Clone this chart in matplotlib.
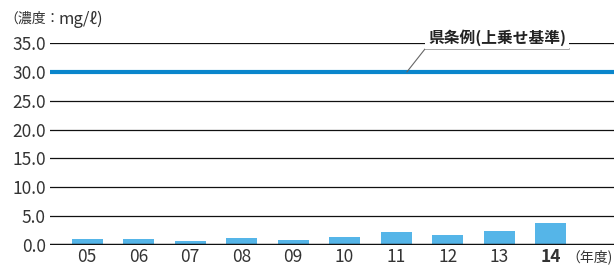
import matplotlib.pyplot as plt

plt.rcParams['font.family'] = ['Noto Sans CJK JP', 'DejaVu Sans']

# fiscal years and concentrations (mg/l)
years = ['05', '06', '07', '08', '09', '10', '11', '12', '13', '14']
values = [1.06, 1.06, 0.76, 1.24, 0.94, 1.47, 2.18, 1.65, 2.35, 3.76]
limit = 30.0
yticks = [0, 5, 10, 15, 20, 25, 30, 35]

bar_color = '#55b5e8'
line_color = '#0a86cc'
text_color = '#333333'

fig = plt.figure(figsize=(6.14, 2.65), dpi=100)
ax = fig.add_axes([50 / 614, 20 / 265, 1 - 50 / 614, 202 / 265])

x = list(range(len(years)))
ax.bar(x, values, width=0.6, color=bar_color, zorder=2)

for v in yticks:
    if v == limit:
        ax.axhline(v, color=line_color, lw=3, zorder=3)
    elif v == 0:
        ax.axhline(v, color='#111111', lw=2.5, zorder=4)
    else:
        ax.axhline(v, color='#111111', lw=0.9, zorder=1)

ax.set_xlim(-0.72, 10.23)
ax.set_ylim(0, 35)
ax.set_yticks(yticks)
ax.set_yticklabels([f'{v:.1f}' for v in yticks], fontsize=12.5, color=text_color)
ax.set_xticks(x)
ax.set_xticklabels(years, fontsize=12.5, color=text_color)
ax.get_xticklabels()[-1].set_fontweight('bold')
ax.tick_params(length=0, pad=2)
ax.tick_params(axis='y', pad=3)
for s in ax.spines.values():
    s.set_visible(False)

# leader line and label for prefectural standard
ax.plot([6.21, 6.56, 9.36], [limit, 33.96, 33.96], color='#666666', lw=0.8,
        clip_on=False, zorder=5)
ax.text(7.96, 35.95, '県条例(上乗せ基準)', ha='center', va='center', fontsize=11.3,
        fontweight='bold', color='#222222', zorder=6,
        bbox=dict(boxstyle='square,pad=0.2', fc='white', ec='none'))

ax.text(9.30, -2.1, '（年度)', ha='left', va='center', fontsize=10, color=text_color)

# unit label: CJK part smaller, latin part a bit larger
ty = 1 - 19 / 265
fig.text(4 / 614, ty, '（濃度：', ha='left', va='center', fontsize=10, color=text_color)
fig.text(58 / 614, ty, 'mg/ℓ)', ha='left', va='center', fontsize=12, color=text_color)

fig.savefig('out.png')
